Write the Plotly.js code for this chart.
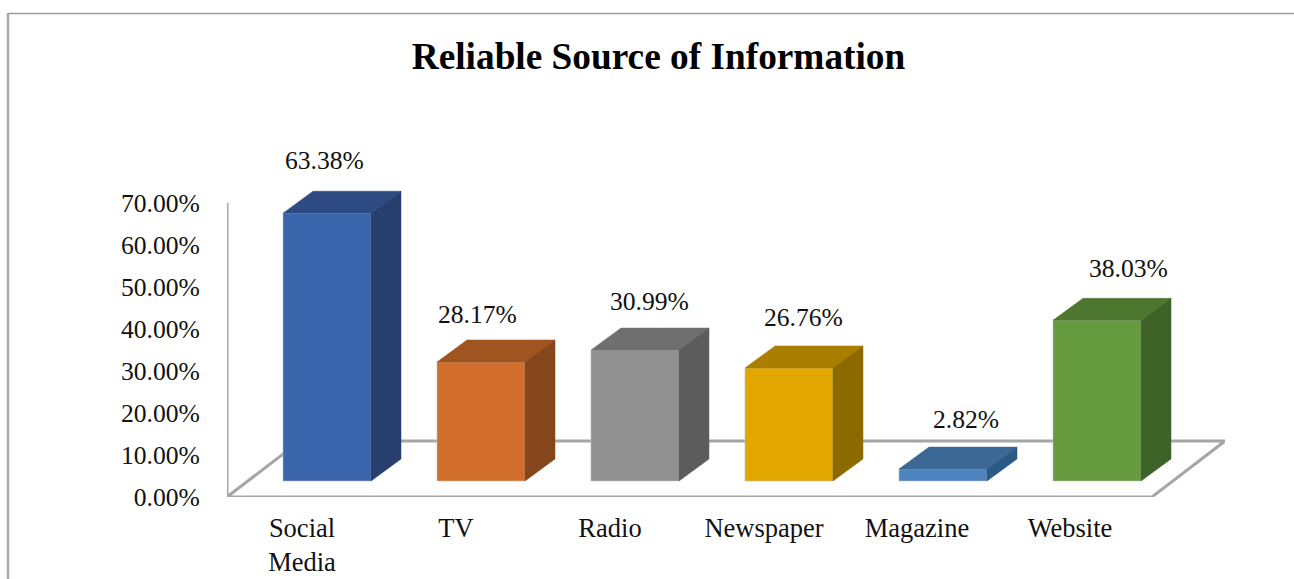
<!DOCTYPE html>
<html><head><meta charset="utf-8">
<script src="https://cdn.plot.ly/plotly-3.0.1.min.js"></script>
<style>html,body{margin:0;padding:0;background:#fff}#c{width:1294px;height:579px}</style>
</head><body><div id="c"></div>
<script>
const categories = ['Social<br>Media','TV','Radio','Newspaper','Magazine','Website'];
const values = [63.38,28.17,30.99,26.76,2.82,38.03];
const valueLabels = ['63.38%','28.17%','30.99%','26.76%','2.82%','38.03%'];
const yTicks = [0,10,20,30,40,50,60,70];
const yTickLabels = ['0.00%','10.00%','20.00%','30.00%','40.00%','50.00%','60.00%','70.00%'];

const frontColors = ['#3a64ab','#d26e2c','#919191','#e3a800','#4d84bf','#659a3e'];
const topColors   = ['#2d4b82','#a0541f','#6f6f6f','#aa7f00','#3b6894','#4d762e'];
const sideColors  = ['#263f6e','#84461a','#5c5c5c','#8c6a00','#2b5a85','#3e6328'];
const labelShiftX = [-3,-4,14,14,23,31];
const labelShiftY = [53,47,49,50,50,52];
const catShiftPx  = [-25,-25,-25,-25,-26,-27];

// pixel geometry of the plotting box
const W=1294,H=579,L=227,R=1225,T=150,B=497;
const STEP=154, C0=327, PX_Y=4.2, PX_BAR=4.225, BASE=481;
const xmin=(L-C0)/STEP, xmax=(R-C0)/STEP;
const halfW=44/STEP, depthX=30/STEP, depthY=22/PX_BAR;
const floorDX=73/STEP, floorDY=56/PX_Y, frontRight=(1152-C0)/STEP;
const xs=categories.map((_,i)=>i);

const traces=[];
// floor and wall
traces.push({type:'scatter',mode:'lines',xaxis:'x',yaxis:'y',hoverinfo:'skip',cliponaxis:false,
  x:[xmin,xmin,frontRight,xmax,xmin+floorDX,xmin],
  y:[70,0,0,floorDY,floorDY,0],
  line:{color:'#a6a6a6',width:3}});
// faces
values.forEach((v,i)=>{
  const l=i-halfW,r=i+halfW;
  traces.push({type:'scatter',mode:'lines',xaxis:'x',yaxis:'y2',hoverinfo:'skip',cliponaxis:false,
    x:[l,r,r+depthX,l+depthX,l],y:[v,v,v+depthY,v+depthY,v],fill:'toself',fillcolor:topColors[i],
    line:{color:topColors[i],width:0.5}});
  traces.push({type:'scatter',mode:'lines',xaxis:'x',yaxis:'y2',hoverinfo:'skip',cliponaxis:false,
    x:[r,r+depthX,r+depthX,r,r],y:[0,depthY,v+depthY,v,0],fill:'toself',fillcolor:sideColors[i],
    line:{color:sideColors[i],width:0.5}});
});
traces.push({type:'bar',xaxis:'x',yaxis:'y2',x:xs,y:values,width:2*halfW,
  marker:{color:frontColors,line:{color:'#bdbdbd',width:0.6}},hoverinfo:'skip'});

const font='"Liberation Serif","Times New Roman",serif';
const tickSize=25.6, catSize=26.5;
const layout={
  width:W,height:H,showlegend:false,paper_bgcolor:'#fff',plot_bgcolor:'rgba(0,0,0,0)',
  margin:{l:L,r:W-R,t:T,b:H-B,pad:0},
  font:{family:font,color:'#111',size:tickSize},
  title:{text:'<b>Reliable Source of Information</b>',x:658.5/W,xanchor:'center',y:1-56/H,yanchor:'middle',
    font:{family:font,size:37.3,color:'#000'}},
  xaxis:{range:[xmin,xmax],tickmode:'array',tickvals:xs.map(i=>i+catShiftPx[i]/STEP),ticktext:categories,
    showline:false,showgrid:false,zeroline:false,ticks:'outside',ticklen:7,tickcolor:'rgba(0,0,0,0)',
    tickfont:{family:font,size:catSize,color:'#111'},tickangle:0,fixedrange:true},
  yaxis:{range:[0,(B-T)/PX_Y],tickmode:'array',tickvals:yTicks,ticktext:yTickLabels,
    showline:false,showgrid:false,zeroline:false,ticks:'outside',ticklen:21,tickcolor:'rgba(0,0,0,0)',
    tickfont:{family:font,size:tickSize,color:'#111'},fixedrange:true},
  yaxis2:{overlaying:'y',side:'left',anchor:'free',position:0,range:[-(B-BASE)/PX_BAR,(BASE-T)/PX_BAR],
    showticklabels:false,showline:false,showgrid:false,zeroline:false,ticks:'',fixedrange:true},
  annotations:values.map((v,i)=>({xref:'x',yref:'y2',x:i,y:v,text:valueLabels[i],showarrow:false,
    xanchor:'center',yanchor:'middle',xshift:labelShiftX[i],yshift:labelShiftY[i],
    font:{family:font,size:tickSize,color:'#111'}})),
  shapes:[
    {type:'line',xref:'paper',yref:'paper',x0:(8-L)/(R-L),x1:(W-L)/(R-L),y0:(B-13.5)/(B-T),y1:(B-13.5)/(B-T),line:{color:'#9c9c9c',width:1.6},layer:'below'},
    {type:'line',xref:'paper',yref:'paper',x0:(8-L)/(R-L),x1:(8-L)/(R-L),y0:(B-13)/(B-T),y1:(B-H)/(B-T),line:{color:'#a6a6a6',width:2.4},layer:'below'}
  ]
};
Plotly.newPlot('c',traces,layout,{displayModeBar:false,staticPlot:true});
</script></body></html>
